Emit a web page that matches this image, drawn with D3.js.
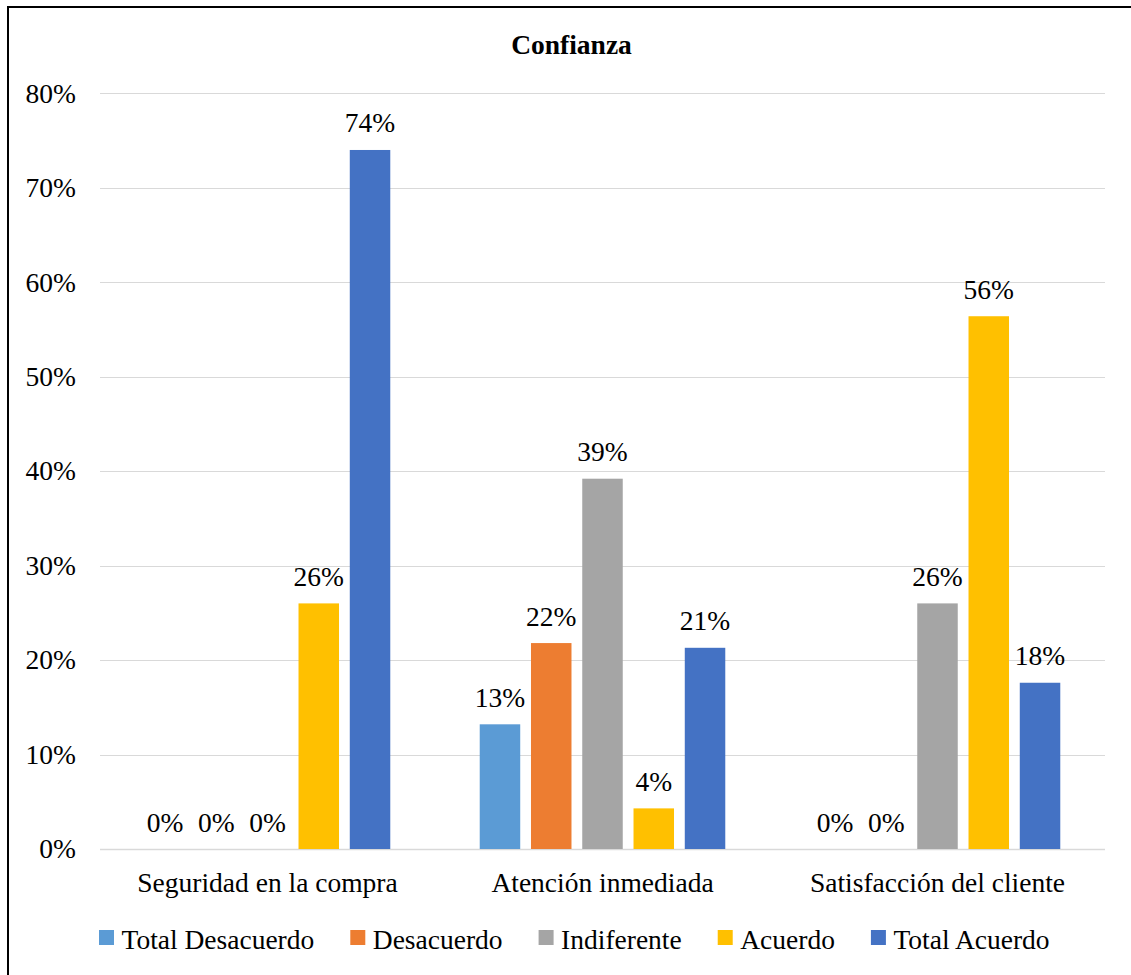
<!DOCTYPE html>
<html>
<head>
<meta charset="utf-8">
<script src="https://cdn.jsdelivr.net/npm/d3@7"></script>
<style>
  html, body { margin: 0; padding: 0; background: #fff; }
  svg { display: block; }
  text { font-family: "Liberation Serif", "DejaVu Serif", serif; fill: #000; }
</style>
</head>
<body>
<svg id="chart" width="1131" height="975"></svg>
<script>
// Chart data
const title = "Confianza";
const categories = ["Seguridad en la compra", "Atención inmediada", "Satisfacción del cliente"];
const seriesNames = ["Total Desacuerdo", "Desacuerdo", "Indiferente", "Acuerdo", "Total Acuerdo"];
const seriesColors = ["#5B9BD5", "#ED7D31", "#A5A5A5", "#FFC000", "#4472C4"];
// values per series, one entry per category (fractions)
const totalDesacuerdo = [0, 0.132, 0];
const desacuerdo      = [0, 0.218, 0];
const indiferente     = [0, 0.392, 0.26];
const acuerdo         = [0.26, 0.043, 0.564];
const totalAcuerdo    = [0.74, 0.213, 0.176];
const seriesValues = [totalDesacuerdo, desacuerdo, indiferente, acuerdo, totalAcuerdo];
const yTicks = [0, 0.1, 0.2, 0.3, 0.4, 0.5, 0.6, 0.7, 0.8];

const FONT_FAMILY = "\"Liberation Serif\", \"DejaVu Serif\", serif";
const FONT = 27.5;

const svg = d3.select("#chart");

// outer frame
svg.append("rect")
  .attr("x", 8).attr("y", 7)
  .attr("width", 1140).attr("height", 990)
  .attr("fill", "none").attr("stroke", "#000").attr("stroke-width", 2);

const plot = { left: 100, right: 1105, top: 93.3, bottom: 849 };

const y = d3.scaleLinear().domain([0, 0.8]).range([plot.bottom, plot.top]);
const x0 = d3.scaleBand().domain(categories)
  .range([plot.left, plot.right]).paddingInner(0.267).paddingOuter(0.1335);
const x1 = d3.scaleBand().domain(seriesNames)
  .range([0, x0.bandwidth()]).paddingInner(0.21).paddingOuter(0);

const pct = d3.format(".0%");

// gridlines
svg.append("g").selectAll("line").data(yTicks).join("line")
  .attr("x1", plot.left).attr("x2", plot.right)
  .attr("y1", d => Math.round(y(d)) + 0.5).attr("y2", d => Math.round(y(d)) + 0.5)
  .attr("stroke", "#D9D9D9").attr("stroke-width", d => d === 0 ? 1.5 : 1.2);

// y axis labels
const yAxis = d3.axisLeft(y).tickValues(yTicks).tickFormat(pct).tickSize(0).tickPadding(0);
const gy = svg.append("g").attr("transform", `translate(${plot.left - 24},0)`).call(yAxis)
  .attr("font-family", FONT_FAMILY).attr("font-size", FONT);
gy.select(".domain").remove();
gy.selectAll("text").attr("fill", "#000").attr("dy", "0.32em");

// category labels
const xAxis = d3.axisBottom(x0).tickSize(0).tickPadding(0);
const gx = svg.append("g").attr("transform", `translate(0,${plot.bottom})`).call(xAxis)
  .attr("font-family", FONT_FAMILY).attr("font-size", FONT);
gx.select(".domain").remove();
gx.selectAll("text").attr("fill", "#000").attr("y", 43).attr("dy", 0);

// bars
const groups = svg.append("g").selectAll("g").data(categories).join("g")
  .attr("transform", d => `translate(${x0(d)},0)`);

const cells = (c, ci) => seriesNames.map((s, si) => ({ s, si, v: seriesValues[si][ci] }));

groups.selectAll("rect").data(cells).join("rect")
  .attr("x", d => x1(d.s))
  .attr("width", x1.bandwidth())
  .attr("y", d => y(d.v))
  .attr("height", d => y(0) - y(d.v))
  .attr("fill", d => seriesColors[d.si]);

groups.selectAll("text.val").data(cells).join("text")
  .attr("class", "val")
  .attr("x", d => x1(d.s) + x1.bandwidth() / 2)
  .attr("y", d => y(d.v) - 17.5)
  .attr("text-anchor", "middle")
  .attr("font-family", FONT_FAMILY)
  .attr("font-size", FONT)
  .text(d => pct(d.v));

// title
svg.append("text")
  .attr("x", 571.5).attr("y", 54)
  .attr("text-anchor", "middle")
  .attr("font-family", FONT_FAMILY)
  .attr("font-size", FONT).attr("font-weight", "bold")
  .text(title);

// legend
const legend = svg.append("g").attr("transform", "translate(99,0)");
let lx = 0;
seriesNames.forEach((name, i) => {
  const item = legend.append("g").attr("transform", `translate(${lx},0)`);
  item.append("rect").attr("x", 0).attr("y", 930).attr("width", 15).attr("height", 15)
    .attr("fill", seriesColors[i]);
  const t = item.append("text").attr("x", 22.5).attr("y", 948.5)
    .attr("font-family", FONT_FAMILY)
    .attr("font-size", FONT).text(name);
  lx += 22.5 + t.node().getComputedTextLength() + 36;
});
</script>
</body>
</html>
